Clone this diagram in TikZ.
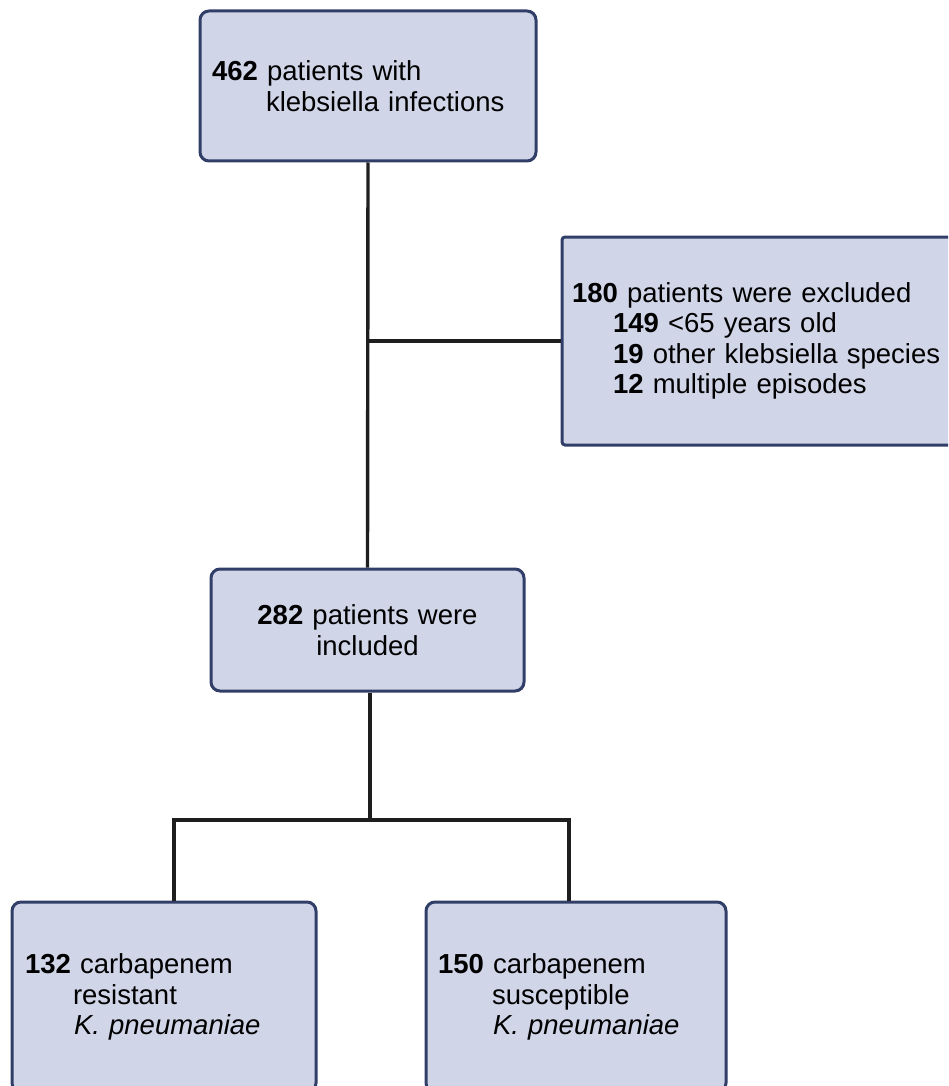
\documentclass[tikz,border=0pt]{standalone}
\usepackage{fontspec}
\setmainfont{Liberation Sans}
\usepackage{tikz}
\definecolor{boxfill}{RGB}{208,213,232}
\definecolor{boxline}{RGB}{48,62,104}
\definecolor{linkcol}{RGB}{30,30,30}
\newcommand{\ChartFont}{\fontsize{27.5}{30.5}\selectfont}

\begin{document}
\begin{tikzpicture}[
  x=1pt, y=-1pt,
  box/.style={draw=boxline, fill=boxfill, line width=3pt, rounded corners=9pt, align=left, inner xsep=12pt, font=\ChartFont},
  link/.style={draw=linkcol, line width=3.4pt}
]
  \useasboundingbox (0,0) rectangle (948,1086);
  \clip (0,0) rectangle (948,1086);
  \node[box, minimum width=336pt, minimum height=150pt, text width=312pt] (total) at (368,86)
    {\textbf{462} patients with\\\hspace*{54pt}klebsiella infections};
  \node[box, rounded corners=3pt, inner xsep=10pt, minimum width=400pt, minimum height=208pt, text width=380pt] (excl) at (762,341)
    {\textbf{180} patients were excluded\\
     \hspace*{41pt}\textbf{149} <65 years old\\
     \hspace*{41pt}\textbf{19} other klebsiella species\\
     \hspace*{41pt}\textbf{12} multiple episodes};
  \node[box, align=center, minimum width=313pt, minimum height=122pt, text width=289pt] (incl) at (367.5,630)
    {\textbf{282} patients were\\included};
  \node[box, inner xsep=13pt, minimum width=304pt, minimum height=190pt, text width=278pt] (res) at (164,997)
    {\textbf{132} carbapenem\\\hspace*{48pt}resistant\\\hspace*{49pt}\textit{K. pneumaniae}};
  \node[box, minimum width=300pt, minimum height=190pt, text width=276pt] (sus) at (576,997)
    {\textbf{150} carbapenem\\\hspace*{54pt}susceptible\\\hspace*{55pt}\textit{K. pneumaniae}};
  \coordinate (split) at (370,820);
  \draw[link] (total.south) -- (incl.north);
  \draw[link] (total.south |- excl.west) -- (excl.west);
  \draw[link] (incl.south -| split) -- (split);
  \draw[link] (split) -| ([xshift=10pt]res.north);
  \draw[link] (split) -| ([xshift=-7pt]sus.north);
\end{tikzpicture}
\end{document}
